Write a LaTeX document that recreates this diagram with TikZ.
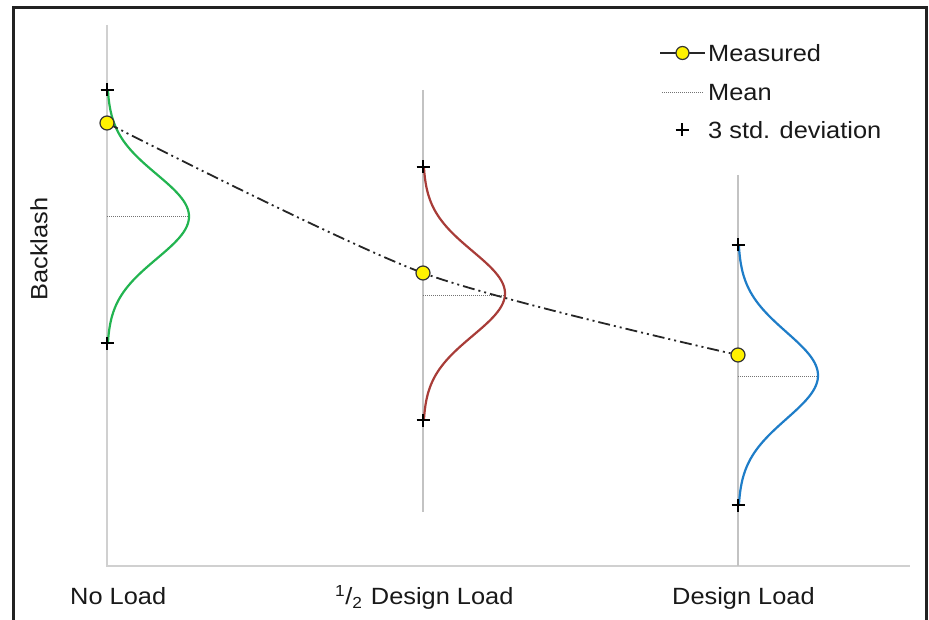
\documentclass[tikz,border=0pt]{standalone}
\usepackage{fontspec}
\setmainfont{Liberation Sans}
\newfontfamily\lab[FakeStretch=1.08]{Liberation Sans}
\definecolor{axisgray}{RGB}{208,208,208}
\definecolor{vgray}{RGB}{195,195,195}
\definecolor{cgreen}{RGB}{34,180,80}
\definecolor{cred}{RGB}{168,60,56}
\definecolor{cblue}{RGB}{30,125,200}
\definecolor{frame}{RGB}{34,34,34}
\definecolor{ptfill}{RGB}{255,242,0}
\tikzset{
  axisline/.style={draw=axisgray, line width=2pt},
  vline/.style={draw=vgray, line width=1.3pt},
  bell/.style={line width=2.2pt},
  meanline/.style={draw=black!55, line width=0.8pt, dash pattern=on 1pt off 1pt},
  pluscross/.style={draw=black, line width=1.4pt},
  measpt/.style={circle, draw=black!80, fill=ptfill, line width=1.2pt, minimum size=14pt, inner sep=0pt},
  trend/.style={draw=black!85, line width=1.8pt, dash pattern=on 12pt off 4pt on 2pt off 4pt on 2pt off 4pt},
  txt/.style={font=\lab\fontsize{23.5}{28}\selectfont, inner sep=0pt, text=black!90}
}
\newcommand{\pmark}[2]{\draw[pluscross] (#1-6.5,#2) -- (#1+6.5,#2) (#1,#2-6.5) -- (#1,#2+6.5);}
\begin{document}
\begin{tikzpicture}[x=1pt,y=-1pt]
\useasboundingbox (0,0) rectangle (929,620);
\fill[white] (0,0) rectangle (929,620);
% frame
\draw[frame, line width=3pt] (13.5,640) -- (13.5,7.5) -- (926.5,7.5) -- (926.5,640);
% axes
\draw[axisline] (107,25) -- (107,566) -- (910,566);
% verticals
\draw[vline] (423,90) -- (423,512);
\draw[vline] (738,175) -- (738,566);
% mean lines
\draw[meanline] (107,216.5) -- (189,216.5);
\draw[meanline] (423,295) -- (505,295);
\draw[meanline] (738,376) -- (818,376);
% bells
\draw[bell, cgreen] plot[domain=-3:3, samples=90, variable=\t, smooth] ({107+82*exp(-\t*\t/2)}, {216.5+42.2*\t});
\draw[bell, cred] plot[domain=-3:3, samples=90, variable=\t, smooth] ({423+82*exp(-\t*\t/2)}, {293.5+42.2*\t});
\draw[bell, cblue] plot[domain=-3:3, samples=90, variable=\t, smooth] ({738+80*exp(-\t*\t/2)}, {375.5+43.3*\t});
% plus marks
\pmark{107}{90}\pmark{107}{343}
\pmark{423}{167}\pmark{423}{420}
\pmark{738}{245}\pmark{738}{505}
% measured points
\coordinate (c1) at (107,123);
\coordinate (c2) at (423,273);
\coordinate (c3) at (738,355);
\draw[trend] plot[smooth, tension=0.45] coordinates {(c1) (c2) (c3)};
\node[measpt] (m1) at (c1) {};
\node[measpt] (m2) at (c2) {};
\node[measpt] (m3) at (c3) {};
% legend
\coordinate (la) at (660,53);
\coordinate (lb) at (705,53);
\draw[draw=black!85, line width=1.3pt] (la) -- (lb);
\node[measpt, minimum size=13pt] (lm) at (682.5,53) {};
\node[txt, anchor=base west] (lt1) at (708,61.5) {Measured};
\coordinate (lc) at (662,92);
\coordinate (ld) at (703,92);
\draw[meanline] (lc) -- (ld);
\node[txt, anchor=base west] (lt2) at (708,100.5) {Mean};
\pmark{682}{130}
\node[txt, anchor=base west] (lt3) at (708,138.5) {3 std. deviation};
% axis labels
\node[txt, anchor=base west] (xl1) at (70,604) {No Load};
\node[txt, anchor=base west] (xl2) at (335,604) {\raisebox{0.6ex}{\fontsize{16}{17}\selectfont 1}\kern0.5pt/\raisebox{-0.4ex}{\fontsize{16}{17}\selectfont 2}\hspace{9pt}Design Load};
\node[txt, anchor=base west] (xl3) at (672,604) {Design Load};
\node[txt, rotate=90] (yl) at (39,249) {Backlash};
\end{tikzpicture}
\end{document}
